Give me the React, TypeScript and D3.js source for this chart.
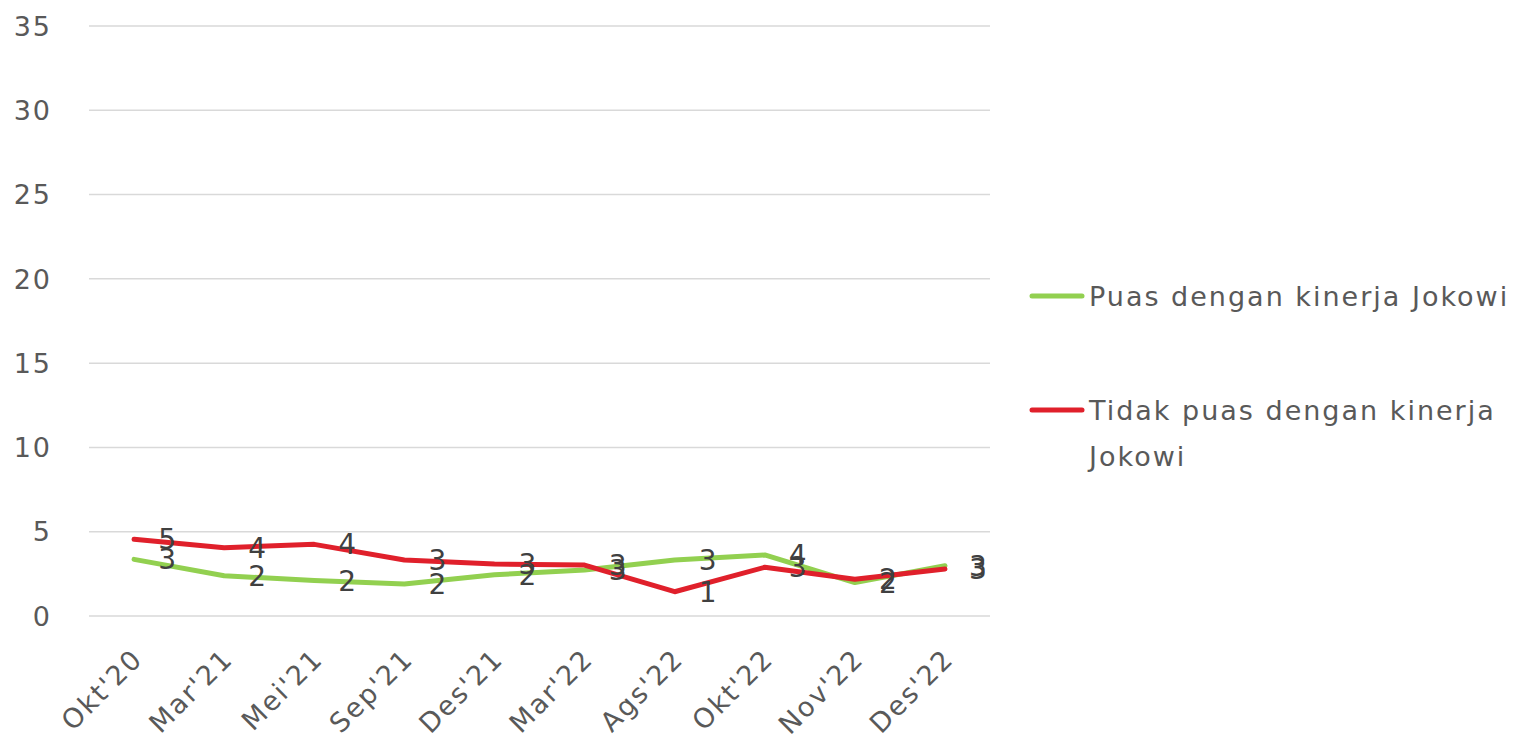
import React from "react";
import * as d3 from "d3";

const categories = ["Okt'20", "Mar'21", "Mei'21", "Sep'21", "Des'21", "Mar'22", "Ags'22", "Okt'22", "Nov'22", "Des'22"];
const puas = [3.36, 2.39, 2.1, 1.9, 2.45, 2.73, 3.32, 3.62, 1.98, 2.98];
const tidakPuas = [4.55, 4.05, 4.25, 3.32, 3.08, 3.02, 1.44, 2.89, 2.18, 2.79];
const yTicks = [0, 5, 10, 15, 20, 25, 30, 35];
const seriesNames = ["Puas dengan kinerja Jokowi", "Tidak puas dengan kinerja Jokowi"];

const W = 1520, H = 741;
const FONT = "'DejaVu Sans', Verdana, sans-serif";

export default function App() {
  const x = d3.scaleBand<string>().domain(categories).range([89, 990]);
  const cx = (c: string) => (x(c) as number) + x.bandwidth() / 2;
  const y = d3.scaleLinear().domain([0, 35]).range([616, 26]);
  const line = d3.line<number>().x((_, i) => cx(categories[i])).y((d) => y(d));

  const series = [
    { name: seriesNames[0], values: puas, color: "#92d050" },
    { name: seriesNames[1], values: tidakPuas, color: "#e0202b" },
  ];

  return (
    <svg width={W} height={H} style={{ position: "absolute", left: 0, top: 0, background: "#fff" }} fontFamily={FONT}>
      {yTicks.map((t) => (
        <g key={t}>
          <line x1={89} x2={990} y1={y(t)} y2={y(t)} stroke="#d9d9d9" strokeWidth={1.5} />
          <text x={52} y={y(t)} dy="0.36em" textAnchor="end" fontSize={27} letterSpacing={2} fill="#595959">{t}</text>
        </g>
      ))}
      {categories.map((c) => (
        <text key={c} transform={`translate(${cx(c) - 3},${647}) rotate(-45)`} textAnchor="end" dy="0.7em" fontSize={27} letterSpacing={2} fill="#595959">{c}</text>
      ))}
      {series.map((s) => (
        <path key={s.name} d={line(s.values) as string} fill="none" stroke={s.color} strokeWidth={5} strokeLinejoin="round" strokeLinecap="round" />
      ))}
      {series.map((s) =>
        s.values.map((v, i) => (
          <text key={s.name + i} x={cx(categories[i]) + 33} y={y(v)} dy="0.36em" textAnchor="middle" fontSize={28} fill="#404040">
            {d3.format(".0f")(v)}
          </text>
        ))
      )}
      <g>
        <line x1={1032} x2={1082} y1={296} y2={296} stroke={series[0].color} strokeWidth={5} strokeLinecap="round" />
        <text x={1089} y={296} dy="0.36em" fontSize={27} letterSpacing={2} fill="#595959">{seriesNames[0]}</text>
        <line x1={1032} x2={1082} y1={410} y2={410} stroke={series[1].color} strokeWidth={5} strokeLinecap="round" />
        <text x={1089} y={410} dy="0.36em" fontSize={27} letterSpacing={2} fill="#595959">
          <tspan x={1089}>Tidak puas dengan kinerja</tspan>
          <tspan x={1089} dy="46">Jokowi</tspan>
        </text>
      </g>
    </svg>
  );
}
